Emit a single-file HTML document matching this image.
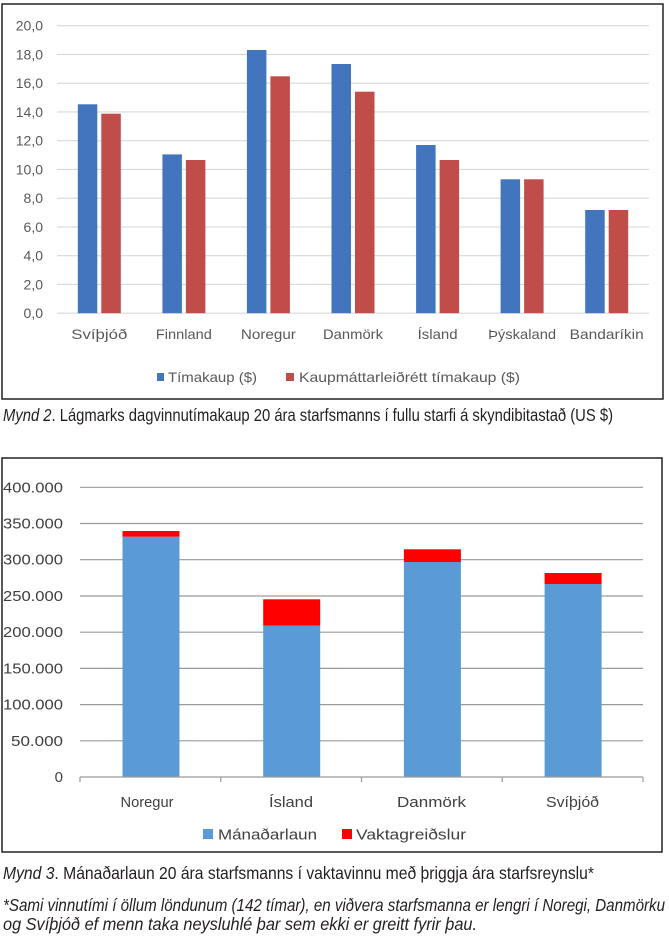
<!DOCTYPE html>
<html>
<head>
<meta charset="utf-8">
<style>
html,body{margin:0;padding:0;background:#fff;}
svg{display:block;}
.t1{font-family:"Liberation Sans",sans-serif;font-size:14px;fill:#595959;}
.t2{font-family:"Liberation Sans",sans-serif;font-size:15px;fill:#404040;}
.cap{font-family:"Liberation Sans Narrow","Liberation Sans",sans-serif;font-size:17.5px;fill:#231f20;}
</style>
</head>
<body>
<svg width="669" height="941" viewBox="0 0 669 941" xmlns="http://www.w3.org/2000/svg">
<rect x="0" y="0" width="669" height="941" fill="#fff"/>

<!-- ===== Chart 1 ===== -->
<rect x="2" y="4" width="661" height="395" fill="#fff" stroke="#222" stroke-width="1.5"/>
<g stroke="#d9d9d9" stroke-width="1.2">
<line x1="57" y1="313.2" x2="649" y2="313.2"/>
<line x1="57" y1="284.45" x2="649" y2="284.45"/>
<line x1="57" y1="255.7" x2="649" y2="255.7"/>
<line x1="57" y1="226.95" x2="649" y2="226.95"/>
<line x1="57" y1="198.2" x2="649" y2="198.2"/>
<line x1="57" y1="169.45" x2="649" y2="169.45"/>
<line x1="57" y1="140.7" x2="649" y2="140.7"/>
<line x1="57" y1="111.95" x2="649" y2="111.95"/>
<line x1="57" y1="83.2" x2="649" y2="83.2"/>
<line x1="57" y1="54.45" x2="649" y2="54.45"/>
<line x1="57" y1="25.7" x2="649" y2="25.7"/>
</g>
<g class="t1" text-anchor="end">
<text x="43" y="318.2">0,0</text>
<text x="43" y="289.45">2,0</text>
<text x="43" y="260.7">4,0</text>
<text x="43" y="231.95">6,0</text>
<text x="43" y="203.2">8,0</text>
<text x="43" y="174.45">10,0</text>
<text x="43" y="145.7">12,0</text>
<text x="43" y="116.95">14,0</text>
<text x="43" y="88.2">16,0</text>
<text x="43" y="59.45">18,0</text>
<text x="43" y="30.7">20,0</text>
</g>
<g fill="#4275bd">
<rect x="77.8" y="104.3" width="19.5" height="208.9"/>
<rect x="162.4" y="154.4" width="19.5" height="158.8"/>
<rect x="246.9" y="50.0" width="19.5" height="263.2"/>
<rect x="331.5" y="64.0" width="19.5" height="249.2"/>
<rect x="416.1" y="145.0" width="19.5" height="168.2"/>
<rect x="500.6" y="179.3" width="19.5" height="133.9"/>
<rect x="585.2" y="210.0" width="19.5" height="103.2"/>
</g>
<g fill="#c14d4b">
<rect x="101.3" y="113.7" width="19.5" height="199.5"/>
<rect x="185.9" y="160.0" width="19.5" height="153.2"/>
<rect x="270.4" y="76.3" width="19.5" height="236.9"/>
<rect x="355.0" y="91.7" width="19.5" height="221.5"/>
<rect x="439.6" y="160.0" width="19.5" height="153.2"/>
<rect x="524.1" y="179.3" width="19.5" height="133.9"/>
<rect x="608.7" y="210.0" width="19.5" height="103.2"/>
</g>
<g class="t1" text-anchor="middle">
<text x="99.3" y="339" textLength="56" lengthAdjust="spacingAndGlyphs">Svíþjóð</text>
<text x="183.9" y="339" textLength="56" lengthAdjust="spacingAndGlyphs">Finnland</text>
<text x="268.4" y="339" textLength="55" lengthAdjust="spacingAndGlyphs">Noregur</text>
<text x="353" y="339" textLength="60" lengthAdjust="spacingAndGlyphs">Danmörk</text>
<text x="437.6" y="339" textLength="40" lengthAdjust="spacingAndGlyphs">Ísland</text>
<text x="522.1" y="339" textLength="68" lengthAdjust="spacingAndGlyphs">Þýskaland</text>
<text x="606.7" y="339" textLength="74" lengthAdjust="spacingAndGlyphs">Bandaríkin</text>
</g>
<rect x="157" y="373" width="7" height="8" fill="#4275bd"/>
<text class="t1" x="168" y="382" textLength="89" lengthAdjust="spacingAndGlyphs">Tímakaup ($)</text>
<rect x="286" y="373" width="8" height="8" fill="#c14d4b"/>
<text class="t1" x="299" y="382" textLength="221" lengthAdjust="spacingAndGlyphs">Kaupmáttarleiðrétt tímakaup ($)</text>

<text class="cap" x="3" y="421" textLength="610" lengthAdjust="spacingAndGlyphs"><tspan font-style="italic">Mynd 2</tspan>. Lágmarks dagvinnutímakaup 20 ára starfsmanns í fullu starfi á skyndibitastað (US $)</text>

<!-- ===== Chart 2 ===== -->
<rect x="2" y="458" width="660" height="394" fill="#fff" stroke="#222" stroke-width="1.5"/>
<g stroke="#9a9a9a" stroke-width="1.2">
<line x1="80" y1="740.8" x2="643" y2="740.8"/>
<line x1="80" y1="704.6" x2="643" y2="704.6"/>
<line x1="80" y1="668.4" x2="643" y2="668.4"/>
<line x1="80" y1="632.2" x2="643" y2="632.2"/>
<line x1="80" y1="596.0" x2="643" y2="596.0"/>
<line x1="80" y1="559.7" x2="643" y2="559.7"/>
<line x1="80" y1="523.5" x2="643" y2="523.5"/>
<line x1="80" y1="487.3" x2="643" y2="487.3"/>
</g>
<g fill="#5b9bd5">
<rect x="122.5" y="536.7" width="57" height="240.3"/>
<rect x="263.2" y="625.7" width="57" height="151.3"/>
<rect x="403.9" y="562.0" width="57" height="215.0"/>
<rect x="544.6" y="584.0" width="57" height="193.0"/>
</g>
<g fill="#ff0000">
<rect x="122.5" y="531.0" width="57" height="5.7"/>
<rect x="263.2" y="599.3" width="57" height="26.4"/>
<rect x="403.9" y="549.3" width="57" height="12.7"/>
<rect x="544.6" y="573.0" width="57" height="11.0"/>
</g>
<g stroke="#9a9a9a" stroke-width="1.2">
<line x1="80" y1="777" x2="643" y2="777"/>
<line x1="80" y1="777" x2="80" y2="782"/>
<line x1="220.75" y1="777" x2="220.75" y2="782"/>
<line x1="361.5" y1="777" x2="361.5" y2="782"/>
<line x1="502.25" y1="777" x2="502.25" y2="782"/>
<line x1="643" y1="777" x2="643" y2="782"/>
</g>
<g class="t2" text-anchor="end">
<text x="63" y="782">0</text>
<text x="63" y="745.8" textLength="52" lengthAdjust="spacingAndGlyphs">50.000</text>
<text x="63" y="709.6" textLength="60" lengthAdjust="spacingAndGlyphs">100.000</text>
<text x="63" y="673.4" textLength="60" lengthAdjust="spacingAndGlyphs">150.000</text>
<text x="63" y="637.2" textLength="60" lengthAdjust="spacingAndGlyphs">200.000</text>
<text x="63" y="601.0" textLength="60" lengthAdjust="spacingAndGlyphs">250.000</text>
<text x="63" y="564.7" textLength="60" lengthAdjust="spacingAndGlyphs">300.000</text>
<text x="63" y="528.5" textLength="60" lengthAdjust="spacingAndGlyphs">350.000</text>
<text x="63" y="492.3" textLength="60" lengthAdjust="spacingAndGlyphs">400.000</text>
</g>
<g class="t2" text-anchor="middle">
<text x="147" y="807" textLength="53" lengthAdjust="spacingAndGlyphs">Noregur</text>
<text x="291" y="807" textLength="44" lengthAdjust="spacingAndGlyphs">Ísland</text>
<text x="431.5" y="807" textLength="69" lengthAdjust="spacingAndGlyphs">Danmörk</text>
<text x="572.5" y="807" textLength="53" lengthAdjust="spacingAndGlyphs">Svíþjóð</text>
</g>
<rect x="203" y="829" width="10" height="10" fill="#5b9bd5"/>
<text class="t2" x="218" y="839.5" textLength="99" lengthAdjust="spacingAndGlyphs">Mánaðarlaun</text>
<rect x="342" y="829" width="10" height="10" fill="#ff0000"/>
<text class="t2" x="356" y="839.5" textLength="110" lengthAdjust="spacingAndGlyphs">Vaktagreiðslur</text>

<text class="cap" x="3" y="879" textLength="591" lengthAdjust="spacingAndGlyphs"><tspan font-style="italic">Mynd 3</tspan>. Mánaðarlaun 20 ára starfsmanns í vaktavinnu með þriggja ára starfsreynslu*</text>
<text class="cap" x="3" y="911" font-style="italic" textLength="662" lengthAdjust="spacingAndGlyphs">*Sami vinnutími í öllum löndunum (142 tímar), en viðvera starfsmanna er lengri í Noregi, Danmörku</text>
<text class="cap" x="3" y="930" font-style="italic" textLength="474" lengthAdjust="spacingAndGlyphs">og Svíþjóð ef menn taka neysluhlé þar sem ekki er greitt fyrir þau.</text>
</svg>
</body>
</html>
